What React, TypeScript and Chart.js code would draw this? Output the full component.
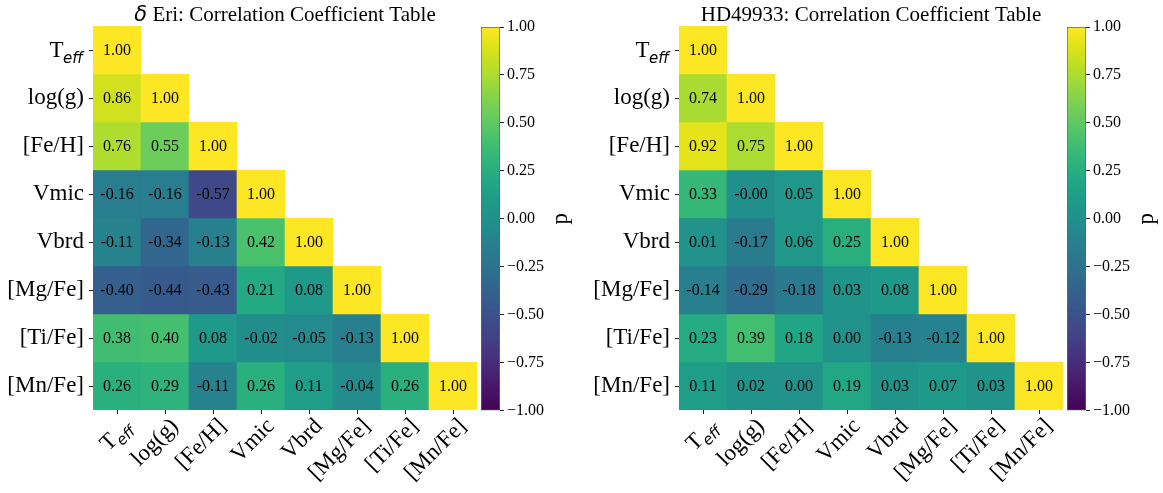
import React, { useEffect, useRef } from 'react';
import { Chart, registerables } from 'chart.js';

Chart.register(...registerables);

// ---------- data ----------
const PARAMS: string[] = ['Teff', 'log(g)', '[Fe/H]', 'Vmic', 'Vbrd', '[Mg/Fe]', '[Ti/Fe]', '[Mn/Fe]'];

// lower-triangular correlation rows (row i has i+1 values)
const ERI_CORR: number[][] = [
  [1.0],
  [0.86, 1.0],
  [0.76, 0.55, 1.0],
  [-0.16, -0.16, -0.57, 1.0],
  [-0.11, -0.34, -0.13, 0.42, 1.0],
  [-0.4, -0.44, -0.43, 0.21, 0.08, 1.0],
  [0.38, 0.4, 0.08, -0.02, -0.05, -0.13, 1.0],
  [0.26, 0.29, -0.11, 0.26, 0.11, -0.04, 0.26, 1.0],
];

const HD_CORR: number[][] = [
  [1.0],
  [0.74, 1.0],
  [0.92, 0.75, 1.0],
  [0.33, -0.004, 0.05, 1.0],
  [0.01, -0.17, 0.06, 0.25, 1.0],
  [-0.14, -0.29, -0.18, 0.03, 0.08, 1.0],
  [0.23, 0.39, 0.18, 0.0, -0.13, -0.12, 1.0],
  [0.11, 0.02, 0.0, 0.19, 0.03, 0.07, 0.03, 1.0],
];

const CBAR_TICKS: number[] = [-1, -0.75, -0.5, -0.25, 0, 0.25, 0.5, 0.75, 1];
const CBAR_LABEL = 'p';
const ERI_TITLE_GREEK = 'δ';
const ERI_TITLE_REST = ' Eri: Correlation Coefficient Table';
const HD_TITLE = 'HD49933: Correlation Coefficient Table';

// ---------- style ----------
const SERIF = '"Liberation Serif", "Times New Roman", serif';
const SANS = '"DejaVu Sans", sans-serif';
const VIRIDIS = [
  '#440154', '#471365', '#482475', '#463480', '#414487', '#3b528b', '#355f8d',
  '#2f6c8e', '#2a788e', '#25848e', '#21918c', '#1e9c89', '#22a884', '#2fb47c',
  '#44bf70', '#5ec962', '#7ad151', '#9bd93c', '#bddf26', '#dfe318', '#fde725',
];

function hexToRgb(h: string) {
  return [parseInt(h.slice(1, 3), 16), parseInt(h.slice(3, 5), 16), parseInt(h.slice(5, 7), 16)];
}
function viridis(v: number) {
  const t = Math.max(0, Math.min(1, (v + 1) / 2));
  const p = t * (VIRIDIS.length - 1);
  const i = Math.min(VIRIDIS.length - 2, Math.floor(p));
  const f = p - i;
  const a = hexToRgb(VIRIDIS[i]);
  const b = hexToRgb(VIRIDIS[i + 1]);
  const c = a.map((x, k) => Math.round(x + (b[k] - x) * f));
  return `rgb(${c[0]},${c[1]},${c[2]})`;
}

const LABEL_SIZE = 23;
const TICK_LEN = 4;
const Y_PAD = 5;
const X_PAD = -1;
const X_LABEL_OFFSET = 10;

function drawTeff(ctx: CanvasRenderingContext2D, x: number, y: number, rot: number) {
  ctx.save();
  ctx.translate(x, y);
  ctx.rotate(rot);
  ctx.fillStyle = '#000';
  ctx.textAlign = 'right';
  ctx.textBaseline = 'alphabetic';
  ctx.font = `italic 15px ${SANS}`;
  const wE = ctx.measureText('eff').width;
  ctx.fillText('eff', 0, 13.3);
  ctx.font = `${LABEL_SIZE}px ${SERIF}`;
  ctx.fillText('T', -wE + 0.5, 7.3);
  ctx.restore();
}

function heatmapConfig(rows: number[][], titleParts: { text: string; font: string }[]): any {
  const datasets = rows.map((row, i) => ({
    label: PARAMS[i],
    data: PARAMS.map((_, j) => (j < row.length ? [i - 0.5, i + 0.5] : null)),
    backgroundColor: (c: any) => viridis(row[c.dataIndex] ?? 0),
    borderWidth: 0,
    grouped: false,
    barPercentage: 1,
    categoryPercentage: 1,
  }));

  const plugin = {
    id: 'heatExtras',
    afterDatasetsDraw(chart: any) {
      const ctx = chart.ctx;
      ctx.save();
      ctx.font = `16px ${SERIF}`;
      ctx.fillStyle = '#000';
      ctx.textAlign = 'center';
      ctx.textBaseline = 'middle';
      rows.forEach((row, i) => {
        const meta = chart.getDatasetMeta(i);
        row.forEach((v, j) => {
          const el = meta.data[j];
          if (!el) return;
          const { x, y, base } = el.getProps(['x', 'y', 'base'], true);
          ctx.fillText(v.toFixed(2), x, (y + base) / 2 + 1);
        });
      });
      ctx.restore();
    },
    afterDraw(chart: any) {
      const ctx = chart.ctx;
      const area = chart.chartArea;
      // title
      ctx.save();
      ctx.fillStyle = '#000';
      ctx.textBaseline = 'alphabetic';
      ctx.textAlign = 'left';
      let total = 0;
      titleParts.forEach((p) => { ctx.font = p.font; total += ctx.measureText(p.text).width; });
      let tx = (area.left + area.right) / 2 - total / 2;
      titleParts.forEach((p) => { ctx.font = p.font; ctx.fillText(p.text, tx, 21); tx += ctx.measureText(p.text).width; });
      ctx.restore();
      // Teff labels (T + italic subscript eff)
      const ys = chart.scales.y;
      const xs = chart.scales.x;
      drawTeff(ctx, area.left - TICK_LEN - Y_PAD - 1, ys.getPixelForValue(0), 0);
      const lh = LABEL_SIZE * 1.2;
      drawTeff(ctx, xs.getPixelForTick(0) + X_LABEL_OFFSET, xs.top + TICK_LEN + X_PAD + lh * 0.3536, -Math.PI / 4);
    },
  };

  return {
    type: 'bar',
    data: { labels: PARAMS, datasets },
    plugins: [plugin],
    options: {
      responsive: false,
      animation: false,
      events: [],
      layout: { padding: { top: 26, right: 3, left: 0, bottom: 0 } },
      plugins: { legend: { display: false }, tooltip: { enabled: false }, title: { display: false } },
      scales: {
        x: {
          type: 'category',
          offset: true,
          border: { display: false },
          grid: { drawOnChartArea: false, drawTicks: true, tickLength: TICK_LEN, offset: false, tickColor: '#222', tickWidth: 1 },
          ticks: {
            autoSkip: false,
            minRotation: 45,
            maxRotation: 45,
            padding: X_PAD,
            labelOffset: X_LABEL_OFFSET,
            color: '#000',
            font: { family: SERIF, size: LABEL_SIZE, lineHeight: 1.2 },
            callback: (_v: any, i: number) => (i === 0 ? '' : PARAMS[i]),
          },
          afterFit: (s: any) => { s.height = 83; },
        },
        y: {
          type: 'linear',
          reverse: true,
          min: -0.5,
          max: 7.5,
          border: { display: false },
          grid: { drawOnChartArea: false, drawTicks: true, tickLength: TICK_LEN, tickColor: '#222', tickWidth: 1 },
          afterBuildTicks: (s: any) => { s.ticks = PARAMS.map((_, i) => ({ value: i })); },
          ticks: {
            padding: Y_PAD,
            color: '#000',
            font: { family: SERIF, size: LABEL_SIZE },
            callback: (v: number) => (v === 0 ? '' : PARAMS[v]),
          },
          afterFit: (s: any) => { s.width = 93; },
        },
      },
    },
  };
}

const CBAR_W = 19;
function colorbarConfig(canvasW: number): any {
  const padLeft = 11;
  const plugin = {
    id: 'cbarLabel',
    afterDraw(chart: any) {
      const ctx = chart.ctx;
      const a = chart.chartArea;
      ctx.save();
      ctx.translate(a.right + 67, (a.top + a.bottom) / 2);
      ctx.rotate(-Math.PI / 2);
      ctx.fillStyle = '#000';
      ctx.font = `${LABEL_SIZE}px ${SERIF}`;
      ctx.textAlign = 'center';
      ctx.textBaseline = 'alphabetic';
      ctx.fillText(CBAR_LABEL, 0, 0);
      ctx.restore();
    },
  };
  return {
    type: 'bar',
    data: {
      labels: [CBAR_LABEL],
      datasets: [{
        data: [[CBAR_TICKS[0], CBAR_TICKS[CBAR_TICKS.length - 1]]],
        backgroundColor: (c: any) => {
          const a = c.chart.chartArea;
          if (!a) return VIRIDIS[10];
          const g = c.chart.ctx.createLinearGradient(0, a.bottom, 0, a.top);
          VIRIDIS.forEach((col, k) => g.addColorStop(k / (VIRIDIS.length - 1), col));
          return g;
        },
        borderColor: '#666',
        borderWidth: 1,
        borderSkipped: false,
        barPercentage: 1,
        categoryPercentage: 1,
      }],
    },
    plugins: [plugin],
    options: {
      responsive: false,
      animation: false,
      events: [],
      layout: { padding: { left: padLeft, top: 27, bottom: 82.5, right: 0 } },
      plugins: { legend: { display: false }, tooltip: { enabled: false } },
      scales: {
        x: { display: false },
        y: {
          position: 'right',
          min: CBAR_TICKS[0],
          max: CBAR_TICKS[CBAR_TICKS.length - 1],
          border: { display: false },
          grid: { drawOnChartArea: false, drawTicks: true, tickLength: TICK_LEN, tickColor: '#222', tickWidth: 1 },
          afterBuildTicks: (s: any) => { s.ticks = CBAR_TICKS.map((v) => ({ value: v })); },
          ticks: {
            padding: 3,
            color: '#000',
            font: { family: SERIF, size: 16 },
            callback: (v: number) => v.toFixed(2).replace('-', '\u2212'),
          },
          afterFit: (s: any) => { s.width = canvasW - padLeft - CBAR_W; },
        },
      },
    },
  };
}

export default function App() {
  const h1 = useRef<HTMLCanvasElement>(null);
  const c1 = useRef<HTMLCanvasElement>(null);
  const h2 = useRef<HTMLCanvasElement>(null);
  const c2 = useRef<HTMLCanvasElement>(null);

  useEffect(() => {
    document.body.style.margin = '0';
    const charts = [
      new Chart(h1.current!, heatmapConfig(ERI_CORR, [
        { text: ERI_TITLE_GREEK, font: `italic 21px ${SANS}` },
        { text: ERI_TITLE_REST, font: `21px ${SERIF}` },
      ])),
      new Chart(c1.current!, colorbarConfig(130)),
      new Chart(h2.current!, heatmapConfig(HD_CORR, [{ text: HD_TITLE, font: `21px ${SERIF}` }])),
      new Chart(c2.current!, colorbarConfig(107)),
    ];
    return () => charts.forEach((c) => c.destroy());
  }, []);

  const abs = (left: number, width: number): React.CSSProperties => ({
    position: 'absolute', left, top: 0, width, height: 493,
  });

  return (
    <div style={{ position: 'fixed', left: 0, top: 0, width: 1163, height: 493, background: '#fff', overflow: 'hidden' }}>
      <canvas ref={h1} width={480} height={493} style={abs(0, 480)} />
      <canvas ref={c1} width={130} height={493} style={abs(470, 130)} />
      <canvas ref={h2} width={480} height={493} style={abs(586, 480)} />
      <canvas ref={c2} width={107} height={493} style={abs(1056, 107)} />
    </div>
  );
}
